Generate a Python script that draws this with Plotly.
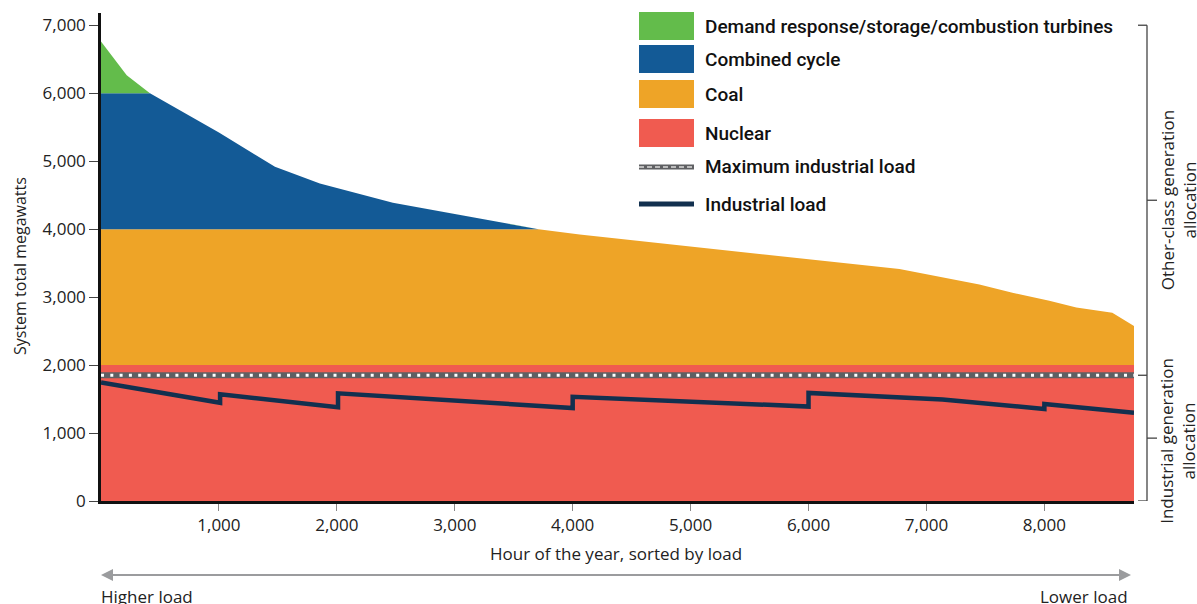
import plotly.graph_objects as go

# ---------------- data ----------------
hours = [0, 218, 415, 1000, 1475, 1856, 2475, 3000, 3710, 4059, 5475, 6263,
         6771, 7449, 7729, 8042, 8271, 8576, 8760]
total_mw = [6760, 6265, 6000, 5420, 4917, 4672, 4387, 4222, 4000, 3922, 3652,
            3510, 3412, 3187, 3064, 2946, 2848, 2769, 2574]
nuclear_cap = 2000
coal_cap = 2000
cc_cap = 2000

ind_hours = [0, 1010, 1010, 2010, 2010, 4000, 4000, 6000, 6000, 7136, 8000, 8000, 8760]
ind_mw = [1745, 1446, 1569, 1378, 1584, 1368, 1534, 1390, 1590, 1495, 1353, 1426, 1299]
max_ind_mw = 1850

x_ticks = [1000, 2000, 3000, 4000, 5000, 6000, 7000, 8000]
y_ticks = [0, 1000, 2000, 3000, 4000, 5000, 6000, 7000]

legend_labels = ["Demand response/storage/combustion turbines", "Combined cycle",
                 "Coal", "Nuclear", "Maximum industrial load", "Industrial load"]

# ---------------- styles ----------------
C_DR = "#63bc4b"
C_CC = "#135a96"
C_COAL = "#eea427"
C_NUC = "#f05b50"
C_MAX = "#5f6063"
C_IND = "#12304f"
FONT = "Open Sans"
LFONT = "Roboto"
TXT = "#222222"

nuc = [min(t, nuclear_cap) for t in total_mw]
coal = [min(max(t - nuclear_cap, 0), coal_cap) for t in total_mw]
cc = [min(max(t - nuclear_cap - coal_cap, 0), cc_cap) for t in total_mw]
dr = [max(t - nuclear_cap - coal_cap - cc_cap, 0) for t in total_mw]

fig = go.Figure()
for name, vals, col in [("Nuclear", nuc, C_NUC), ("Coal", coal, C_COAL),
                        ("Combined cycle", cc, C_CC),
                        ("Demand response/storage/combustion turbines", dr, C_DR)]:
    fig.add_trace(go.Scatter(x=hours, y=vals, name=name, stackgroup="gen",
                             mode="lines", line=dict(width=0, color=col),
                             fillcolor=col, showlegend=False, hoverinfo="skip"))

fig.add_trace(go.Scatter(x=[0, 8760], y=[max_ind_mw, max_ind_mw], mode="lines",
                         line=dict(color=C_MAX, width=6), showlegend=False))
fig.add_trace(go.Scatter(x=[0, 8760], y=[max_ind_mw, max_ind_mw], mode="lines",
                         line=dict(color="white", width=3, dash="3px,6.3px"),
                         showlegend=False))
fig.add_trace(go.Scatter(x=ind_hours, y=ind_mw, mode="lines",
                         line=dict(color=C_IND, width=4.5), showlegend=False))

# ---------------- layout helpers (image pixel -> figure) ----------------
FW, FH = 1197, 604
L, R, T, B = 101, 1134, 13, 501
W = R - L
H = B - T


def px(xp):
    return (xp - L) / W


def py(yp):
    return (B - yp) / H


shapes = []
annotations = []

# legend
sw_x0, sw_x1 = px(639), px(694)
for (y0, y1), col in zip([(12, 40), (45, 73), (80, 108), (119, 147)],
                         [C_DR, C_CC, C_COAL, C_NUC]):
    shapes.append(dict(type="rect", xref="paper", yref="paper", x0=sw_x0, x1=sw_x1,
                       y0=py(y1), y1=py(y0), fillcolor=col, line=dict(width=0)))
shapes.append(dict(type="line", xref="paper", yref="paper", x0=sw_x0, x1=sw_x1,
                   y0=py(167), y1=py(167), line=dict(color=C_MAX, width=5)))
shapes.append(dict(type="line", xref="paper", yref="paper", x0=sw_x0, x1=sw_x1,
                   y0=py(167), y1=py(167), line=dict(color="#bdbdbd", width=2, dash="5px,3px")))
shapes.append(dict(type="line", xref="paper", yref="paper", x0=sw_x0, x1=sw_x1,
                   y0=py(204), y1=py(204), line=dict(color=C_IND, width=5)))
for lab, yc in zip(legend_labels, [26, 59, 94, 133, 167, 204]):
    annotations.append(dict(xref="paper", yref="paper", x=px(703), y=py(yc),
                            text=lab, showarrow=False, xanchor="left", yanchor="middle",
                            font=dict(family=LFONT, size=19, color="#111111", weight=500)))

# right brackets
bx = px(1147)
tx0 = px(1138)
tx1 = px(1157)
BR = dict(color="#444444", width=1.3)
shapes += [
    dict(type="line", xref="paper", yref="y", x0=bx, x1=bx, y0=0, y1=7000, line=BR),
    dict(type="line", xref="paper", yref="y", x0=tx0, x1=bx, y0=7000, y1=7000, line=BR),
    dict(type="line", xref="paper", yref="y", x0=tx0, x1=bx, y0=max_ind_mw, y1=max_ind_mw, line=BR),
    dict(type="line", xref="paper", yref="y", x0=tx0, x1=bx, y0=0, y1=0, line=BR),
    dict(type="line", xref="paper", yref="y", x0=bx, x1=tx1, y0=(7000 + max_ind_mw) / 2,
         y1=(7000 + max_ind_mw) / 2, line=BR),
    dict(type="line", xref="paper", yref="y", x0=bx, x1=tx1, y0=max_ind_mw / 2,
         y1=max_ind_mw / 2, line=BR),
]
annotations.append(dict(xref="paper", yref="y", x=px(1178), y=(7000 + max_ind_mw) / 2,
                        text="Other-class generation<br>allocation", textangle=-90,
                        xanchor="center", yanchor="middle",
                        showarrow=False, font=dict(family=FONT, size=17, color=TXT)))
annotations.append(dict(xref="paper", yref="y", x=px(1178), y=max_ind_mw / 2 - 40,
                        text="Industrial generation<br>allocation", textangle=-90,
                        xanchor="center", yanchor="middle",
                        showarrow=False, font=dict(family=FONT, size=17, color=TXT)))

# axis titles
annotations.append(dict(xref="paper", yref="paper", x=px(616), y=py(553),
                        text="Hour of the year, sorted by load", showarrow=False,
                        xanchor="center", yanchor="middle",
                        font=dict(family=FONT, size=17, color=TXT)))
annotations.append(dict(xref="paper", yref="paper", x=px(20), y=py(266),
                        text="System total megawatts", textangle=-90, showarrow=False,
                        xanchor="center", yanchor="middle",
                        font=dict(family=FONT, size=16, color=TXT)))

# bottom arrow
shapes.append(dict(type="line", xref="paper", yref="paper", x0=px(108), x1=px(1124),
                   y0=py(575), y1=py(575), line=dict(color="#9b9c9e", width=2)))
annotations.append(dict(xref="paper", yref="paper", x=px(101), y=py(575),
                        ax=24, ay=0, text="",
                        showarrow=True, arrowhead=2, arrowsize=1.2, arrowwidth=2,
                        arrowcolor="#9b9c9e"))
annotations.append(dict(xref="paper", yref="paper", x=px(1131), y=py(575),
                        ax=-24, ay=0, text="",
                        showarrow=True, arrowhead=2, arrowsize=1.2, arrowwidth=2,
                        arrowcolor="#9b9c9e"))
annotations.append(dict(xref="paper", yref="paper", x=px(99), y=py(596),
                        text="Higher load", showarrow=False, xanchor="left", yanchor="middle",
                        font=dict(family=FONT, size=17, color=TXT)))
annotations.append(dict(xref="paper", yref="paper", x=px(1130), y=py(596),
                        text="Lower load", showarrow=False, xanchor="right", yanchor="middle",
                        font=dict(family=FONT, size=17, color=TXT)))

fig.update_layout(
    width=FW, height=FH,
    margin=dict(l=L, r=FW - R, t=T, b=FH - B),
    paper_bgcolor="white", plot_bgcolor="white",
    showlegend=False, hovermode=False,
    shapes=shapes, annotations=annotations,
    font=dict(family=FONT, size=17, color=TXT),
    xaxis=dict(range=[0, 8760], tickvals=x_ticks, tickformat=",d", showgrid=False,
               zeroline=False, showline=True, linecolor="#111111", linewidth=2.5,
               ticks="outside", ticklen=7, tickcolor="#888888", tickwidth=1.3,
               tickfont=dict(family=FONT, size=17, color=TXT)),
    yaxis=dict(range=[0, 7180], tickvals=y_ticks, tickformat=",d", showgrid=False,
               zeroline=False, showline=True, linecolor="#111111", linewidth=2.5,
               ticks="outside", ticklen=9, tickcolor="#444444", tickwidth=1.3,
               tickfont=dict(family=FONT, size=17, color=TXT)),
)

fig.write_html("out.html", config={"displayModeBar": False},
               post_script="document.body.style.margin='0';document.body.style.overflow='hidden';")
